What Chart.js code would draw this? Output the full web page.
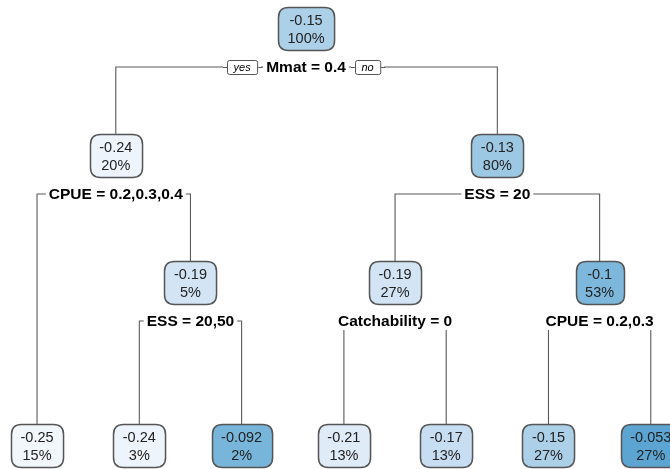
<!DOCTYPE html>
<html>
<head>
<meta charset="utf-8">
<script src="https://cdn.jsdelivr.net/npm/chart.js@4/dist/chart.umd.min.js"></script>
<style>
  body { margin: 0; background: #fff; }
  #tree { display: block; }
</style>
</head>
<body>
<canvas id="tree" width="670" height="469"></canvas>
<script>
// node data (regression tree, fitted value and % of obs)
var nodeValue = ["-0.15", "-0.24", "-0.13", "-0.25", "-0.19", "-0.19", "-0.1", "-0.24", "-0.092", "-0.21", "-0.17", "-0.15", "-0.053"];
var nodePct   = ["100%", "20%", "80%", "15%", "5%", "27%", "53%", "3%", "2%", "13%", "13%", "27%", "27%"];
// horizontal position in leaf units, vertical in tree levels (leaves fall to the bottom)
var nodeX     = [2.63, 0.77, 4.5, 0, 1.5, 3.5, 5.5, 1, 2, 3, 4, 5, 6];
var nodeLevel = [0, 1, 1, 3.28, 2, 2, 2, 3.28, 3.28, 3.28, 3.28, 3.28, 3.28];
var leftChild  = [1, 3, 5, null, 7, 9, 11, null, null, null, null, null, null];
var rightChild = [2, 4, 6, null, 8, 10, 12, null, null, null, null, null, null];
var splitLabel = ["Mmat = 0.4", "CPUE = 0.2,0.3,0.4", "ESS = 20", null, "ESS = 20,50", "Catchability = 0", "CPUE = 0.2,0.3",
                  null, null, null, null, null, null];

var splitDrop = 0.3; // split label sits this far under its node

// colour ramp for the box fill
var rampStops = [
    [-0.25, [242, 247, 252]],
    [-0.21, [223, 235, 247]],
    [-0.17, [199, 221, 241]],
    [-0.15, [172, 208, 231]],
    [-0.13, [157, 200, 227]],
    [-0.10, [125, 184, 220]],
    [-0.053, [92, 165, 211]]
];

function boxColor(v) {
    if (v <= rampStops[0][0]) return "rgb(" + rampStops[0][1].join(",") + ")";
    for (var i = 1; i < rampStops.length; i++) {
        if (v <= rampStops[i][0]) {
            var a = rampStops[i - 1], b = rampStops[i];
            var t = (v - a[0]) / (b[0] - a[0]);
            var c = [0, 1, 2].map(function (k) { return Math.round(a[1][k] + t * (b[1][k] - a[1][k])); });
            return "rgb(" + c.join(",") + ")";
        }
    }
    return "rgb(" + rampStops[rampStops.length - 1][1].join(",") + ")";
}

// one polyline per split: left child -> split bar -> right child
var edgeSets = [];
for (var i = 0; i < nodeValue.length; i++) {
    if (leftChild[i] === null) continue;
    var l = leftChild[i], r = rightChild[i];
    var sy = nodeLevel[i] + splitDrop;
    edgeSets.push({
        data: [
            { x: nodeX[l], y: nodeLevel[l] },
            { x: nodeX[l], y: sy },
            { x: nodeX[r], y: sy },
            { x: nodeX[r], y: nodeLevel[r] }
        ],
        showLine: true,
        borderColor: "#5a5a5a",
        borderWidth: 1.1,
        pointRadius: 0,
        tension: 0
    });
}

function roundRect(ctx, x, y, w, h, r) {
    ctx.beginPath();
    ctx.moveTo(x + r, y);
    ctx.lineTo(x + w - r, y);
    ctx.quadraticCurveTo(x + w, y, x + w, y + r);
    ctx.lineTo(x + w, y + h - r);
    ctx.quadraticCurveTo(x + w, y + h, x + w - r, y + h);
    ctx.lineTo(x + r, y + h);
    ctx.quadraticCurveTo(x, y + h, x, y + h - r);
    ctx.lineTo(x, y + r);
    ctx.quadraticCurveTo(x, y, x + r, y);
    ctx.closePath();
}

var treePlugin = {
    id: "treeBoxes",
    afterDatasetsDraw: function (chart) {
        var ctx = chart.ctx;
        var xs = chart.scales.x, ys = chart.scales.y;
        ctx.save();
        ctx.textAlign = "center";
        ctx.textBaseline = "middle";

        // split labels
        for (var i = 0; i < nodeValue.length; i++) {
            if (!splitLabel[i]) continue;
            var px = xs.getPixelForValue(nodeX[i]);
            var py = ys.getPixelForValue(nodeLevel[i] + splitDrop);
            ctx.font = "bold 15.5px 'Liberation Sans', Arial, sans-serif";
            var tw = ctx.measureText(splitLabel[i]).width;
            ctx.fillStyle = "#fff";
            ctx.fillRect(px - tw / 2 - 3, py - 9, tw + 6, 18);
            ctx.fillStyle = "#000";
            ctx.fillText(splitLabel[i], px, py + 1);

            if (i === 0) {
                // yes / no tags beside the root split
                ctx.font = "italic 11px 'Liberation Sans', Arial, sans-serif";
                var tags = [["yes", -1], ["no", 1]];
                tags.forEach(function (t) {
                    var w = ctx.measureText(t[0]).width + 13;
                    var cx = px + t[1] * (tw / 2 + 9 + w / 2);
                    ctx.fillStyle = "#fff";
                    ctx.fillRect(cx - w / 2 - 4, py - 9, w + 8, 18);
                    ctx.strokeStyle = "#555";
                    ctx.lineWidth = 1;
                    roundRect(ctx, Math.round(cx - w / 2) + 0.5, Math.round(py - 7) + 0.5, w, 14, 2);
                    ctx.fill();
                    ctx.stroke();
                    ctx.fillStyle = "#000";
                    ctx.fillText(t[0], cx, py + 0.5);
                    // short bits of the bar between tag and label
                    ctx.beginPath();
                    ctx.moveTo(cx - w / 2 - 4, Math.round(py) + 0.5);
                    ctx.lineTo(cx - w / 2, Math.round(py) + 0.5);
                    ctx.moveTo(cx + w / 2 + 1, Math.round(py) + 0.5);
                    ctx.lineTo(cx + w / 2 + 5, Math.round(py) + 0.5);
                    ctx.stroke();
                });
            }
        }

        // node boxes
        ctx.font = "14.5px 'Liberation Sans', Arial, sans-serif";
        for (var j = 0; j < nodeValue.length; j++) {
            var bx = xs.getPixelForValue(nodeX[j]);
            var by = ys.getPixelForValue(nodeLevel[j]);
            var w1 = Math.max(ctx.measureText(nodeValue[j]).width, ctx.measureText(nodePct[j]).width);
            var bw = w1 + 19, bh = 43;
            ctx.fillStyle = boxColor(parseFloat(nodeValue[j]));
            ctx.strokeStyle = "#555";
            ctx.lineWidth = 1.5;
            roundRect(ctx, Math.round(bx - bw / 2) + 0.5, Math.round(by - bh / 2) + 0.5, bw, bh, 10);
            ctx.fill();
            ctx.stroke();
            ctx.fillStyle = "#222";
            ctx.fillText(nodeValue[j], bx, by - 8);
            ctx.fillText(nodePct[j], bx, by + 10);
        }
        ctx.restore();
    }
};

var treeChart = new Chart(document.getElementById("tree"), {
    type: "scatter",
    data: { datasets: edgeSets },
    options: {
        responsive: false,
        animation: false,
        layout: { padding: 0 },
        plugins: { legend: { display: false }, tooltip: { enabled: false } },
        scales: {
            x: { type: "linear", display: false, min: -0.362, max: 6.188 },
            y: { type: "linear", display: false, reverse: true, min: -0.228, max: 3.465 }
        }
    },
    plugins: [treePlugin]
});
</script>
</body>
</html>
